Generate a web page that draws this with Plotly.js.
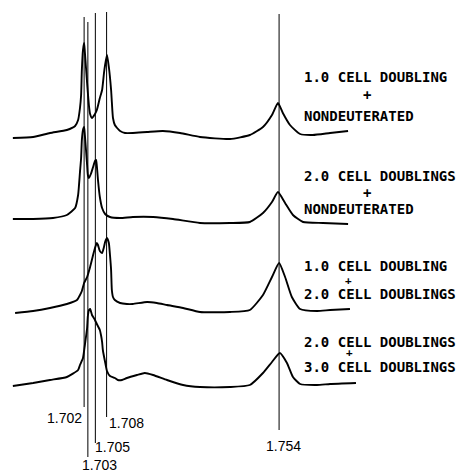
<!DOCTYPE html>
<html>
<head>
<meta charset="utf-8">
<script src="https://cdn.plot.ly/plotly-3.0.1.min.js"></script>
<style>html,body{margin:0;padding:0;background:#fff;}#chart{width:459px;height:473px;}</style>
</head>
<body>
<div id="chart"></div>
<script>
// Buoyant density (g/cm3) marker lines and their labels
const markerDensities = [1.702, 1.703, 1.705, 1.708, 1.754];
const markerLabels = ['1.702', '1.703', '1.705', '1.708', '1.754'];

// Sample descriptions (top line, bottom line) for the four scans, top to bottom
const sampleTop = ['1.0 CELL DOUBLING', '2.0 CELL DOUBLINGS', '1.0 CELL DOUBLING', '2.0 CELL DOUBLINGS'];
const sampleBottom = ['NONDEUTERATED', 'NONDEUTERATED', '2.0 CELL DOUBLINGS', '3.0 CELL DOUBLINGS'];

// Scan 1: 1.0 cell doubling + nondeuterated (density, absorbance in arbitrary stacked units)
const scan1Density = [1.6830,1.6884,1.6929,1.6974,1.6996,1.7004,1.7009,1.7012,1.7014,1.7017,1.7020,1.7022,1.7028,1.7033,1.7036,1.7041,1.7049,1.7054,1.7062,1.7068,1.7073,1.7076,1.7081,1.7086,1.7092,1.7094,1.7097,1.7102,1.7108,1.7116,1.7129,1.7150,1.7188,1.7230,1.7276,1.7329,1.7409,1.7462,1.7497,1.7521,1.7537,1.7550,1.7569,1.7596,1.7630,1.7676,1.7724];
const scan1Abs = [335,336,340,343,347,353,365,378,403,423,430,421,390,367,359,355,359,363,375,383,400,408,418,406,383,371,355,348,345,342,340,340,341,342,340,336,334,338,346,358,370,360,348,339,338,340,342];

// Scan 2: 2.0 cell doublings + nondeuterated
const scan2Density = [1.6830,1.6884,1.6937,1.6974,1.6996,1.7004,1.7009,1.7012,1.7014,1.7017,1.7020,1.7022,1.7028,1.7030,1.7033,1.7038,1.7044,1.7049,1.7052,1.7054,1.7057,1.7062,1.7068,1.7076,1.7089,1.7116,1.7150,1.7204,1.7257,1.7329,1.7409,1.7462,1.7497,1.7521,1.7537,1.7556,1.7577,1.7604,1.7657,1.7724];
const scan2Abs = [254,254,255,258,265,278,301,315,333,343,346,338,308,298,295,299,306,312,313,307,293,276,265,259,256,255,256,256,254,250,250,251,260,271,281,270,258,251,250,249];

// Scan 3: 1.0 cell doubling + 2.0 cell doublings
const scan3Density = [1.6836,1.6884,1.6929,1.6974,1.7001,1.7009,1.7014,1.7020,1.7028,1.7036,1.7044,1.7049,1.7054,1.7057,1.7062,1.7068,1.7073,1.7076,1.7081,1.7086,1.7089,1.7092,1.7094,1.7097,1.7102,1.7116,1.7134,1.7150,1.7188,1.7214,1.7241,1.7284,1.7329,1.7409,1.7462,1.7497,1.7521,1.7540,1.7556,1.7574,1.7596,1.7641,1.7676,1.7729];
const scan3Abs = [160,162,165,169,173,178,182,190,196,206,218,225,230,228,222,220,226,231,235,230,218,203,183,176,173,170,169,169,171,170,168,165,161,161,163,178,196,210,196,176,164,162,163,164];

// Scan 4: 2.0 cell doublings + 3.0 cell doublings
const scan4Density = [1.6830,1.6884,1.6929,1.6974,1.7004,1.7009,1.7017,1.7022,1.7028,1.7030,1.7033,1.7036,1.7041,1.7049,1.7054,1.7062,1.7065,1.7068,1.7070,1.7076,1.7081,1.7089,1.7102,1.7110,1.7121,1.7134,1.7161,1.7182,1.7204,1.7241,1.7284,1.7329,1.7409,1.7462,1.7497,1.7521,1.7542,1.7561,1.7577,1.7596,1.7641,1.7676,1.7745];
const scan4Abs = [87,90,93,96,103,108,115,128,145,157,163,164,158,153,149,143,138,131,123,111,102,97,95,93,93,95,98,100,98,93,88,86,86,88,100,111,120,110,96,89,88,89,90];

const scans = [
  [scan1Density, scan1Abs],
  [scan2Density, scan2Abs],
  [scan3Density, scan3Abs],
  [scan4Density, scan4Abs]
];

const traces = scans.map(s => ({
  x: s[0], y: s[1], type: 'scatter', mode: 'lines',
  line: {color: '#000', width: 1.9, shape: 'spline', smoothing: 0.5},
  hoverinfo: 'skip'
}));

// layout extents of marker lines (top, bottom) and label placement
const lineExtent = [[456, 66], [451, 16], [460, 30], [461, 56], [459, 43]];
const labelPlace = [
  {y: 55, xanchor: 'right', xshift: 0},
  {y: 8, xanchor: 'left', xshift: -8},
  {y: 26, xanchor: 'left', xshift: -2},
  {y: 50, xanchor: 'left', xshift: 0},
  {y: 27, xanchor: 'center', xshift: 4}
];

const shapes = markerDensities.map((d, i) => ({
  type: 'line', xref: 'x', yref: 'y', x0: d, x1: d,
  y0: lineExtent[i][1], y1: lineExtent[i][0],
  line: {color: '#000', width: 1}
}));

const numFont = {family: 'Liberation Sans, Arial, sans-serif', size: 14, color: '#000'};
const txtFont = {family: 'DejaVu Sans Mono, monospace', size: 14, color: '#000', weight: 'bold'};

const annotations = markerLabels.map((t, i) => ({
  text: t, x: markerDensities[i], y: labelPlace[i].y, xref: 'x', yref: 'y',
  xanchor: labelPlace[i].xanchor, yanchor: 'middle', xshift: labelPlace[i].xshift,
  showarrow: false, font: numFont
}));

const textX = 1.7601;
const blockY = [[396, 378, 357], [297, 280, 264], [207, 193, 179], [131, 121, 106]];
const plusX = [1.7775, 1.7775, 1.7724, 1.7727];
const plusSize = [14, 14, 11, 11];
sampleTop.forEach((t, i) => {
  annotations.push({text: t, x: textX, y: blockY[i][0], xref: 'x', yref: 'y', xanchor: 'left', yanchor: 'middle', showarrow: false, font: txtFont});
  annotations.push({text: '+', x: plusX[i], y: blockY[i][1], xref: 'x', yref: 'y', xanchor: 'center', yanchor: 'middle', showarrow: false, font: Object.assign({}, txtFont, {size: plusSize[i]})});
  annotations.push({text: sampleBottom[i], x: textX, y: blockY[i][2], xref: 'x', yref: 'y', xanchor: 'left', yanchor: 'middle', showarrow: false, font: txtFont});
});

const layout = {
  width: 459, height: 473,
  margin: {l: 0, r: 0, t: 0, b: 0, pad: 0},
  paper_bgcolor: '#fff', plot_bgcolor: '#fff',
  showlegend: false,
  xaxis: {range: [1.67957, 1.80198], visible: false, fixedrange: true},
  yaxis: {range: [0, 473], visible: false, fixedrange: true},
  shapes: shapes,
  annotations: annotations
};

Plotly.newPlot('chart', traces, layout, {staticPlot: true, displayModeBar: false});
</script>
</body>
</html>
